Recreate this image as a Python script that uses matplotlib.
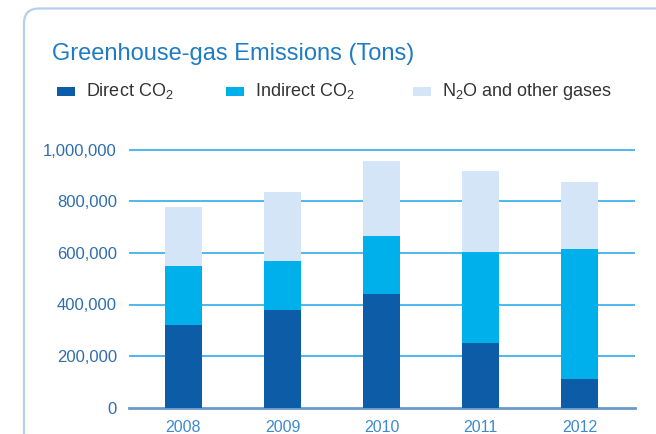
import matplotlib
matplotlib.use("Agg")
import matplotlib.pyplot as plt
import numpy as np
from matplotlib.patches import FancyBboxPatch, Rectangle
from matplotlib.transforms import IdentityTransform
from matplotlib.ticker import FuncFormatter

# data (tons)
years = ["2008", "2009", "2010", "2011", "2012"]
direct_co2 = [320000, 378000, 440000, 251000, 111000]
indirect_co2 = [229000, 191000, 226000, 353000, 504000]
other_gases = [228000, 267000, 291000, 314000, 261000]

series_labels = [r"Direct CO$_2$", r"Indirect CO$_2$", r"N$_2$O and other gases"]
series_colors = ["#0c5ca8", "#00b0ea", "#d3e5f6"]

plt.rcParams["font.family"] = ["Liberation Sans", "DejaVu Sans"]
plt.rcParams["mathtext.fontset"] = "custom"
plt.rcParams["mathtext.rm"] = "Liberation Sans"
plt.rcParams["mathtext.it"] = "Liberation Sans"

fig = plt.figure(figsize=(6.56, 4.34), dpi=100)

# rounded panel border
border = FancyBboxPatch((24, -60), 720, 434 - 8.5 + 60,
                        boxstyle="round,pad=0,rounding_size=15",
                        transform=IdentityTransform(), facecolor="none",
                        edgecolor="#b7cfee", linewidth=1.6)
fig.patches.append(border)

# title
fig.text(52 / 656, 1 - 60 / 434, "Greenhouse-gas Emissions (Tons)",
         fontsize=17, color="#1f7cc4", ha="left", va="baseline")

# legend, placed by hand
legend_x = [56.7, 226, 413]
for lx, lab, col in zip(legend_x, series_labels, series_colors):
    fig.patches.append(Rectangle((lx, 434 - 95.7), 18, 8.4, transform=IdentityTransform(),
                                 facecolor=col, edgecolor="none"))
    fig.text((lx + 29) / 656, 1 - 95.7 / 434, lab, fontsize=13, color="#333333",
             ha="left", va="baseline")

# axes
ymax = 1.02e6
h = (407.5 - 150) / 434 * 1.02
ax = fig.add_axes([129.3 / 656, 26.5 / 434, (635 - 129.3) / 656, h])

x = np.arange(len(years))
w = 0.375
bottom = np.zeros(len(years))
for vals, col in zip([direct_co2, indirect_co2, other_gases], series_colors):
    ax.bar(x, vals, w, bottom=bottom, color=col, zorder=3)
    bottom += np.array(vals)

ax.set_xlim(-0.547, 4.56)
ax.set_ylim(0, ymax)
ax.set_yticks(np.arange(0, 1000001, 200000))
ax.yaxis.set_major_formatter(FuncFormatter(lambda v, p: f"{int(v):,}"))
ax.set_xticks(x)
ax.set_xticklabels(years)

for v in range(200000, 1000001, 200000):
    ax.axhline(v, color="#1aa5e6", lw=1.1, zorder=1)
ax.axhline(0, color="#6a9aca", lw=2, zorder=2, clip_on=False)

for s in ax.spines.values():
    s.set_visible(False)
ax.tick_params(axis="both", length=0)
ax.tick_params(axis="y", pad=9, labelsize=12, labelcolor="#2e6eae")
ax.tick_params(axis="x", pad=9, labelsize=11.5, labelcolor="#3d8ad0")

fig.savefig("out.png", dpi=100)
